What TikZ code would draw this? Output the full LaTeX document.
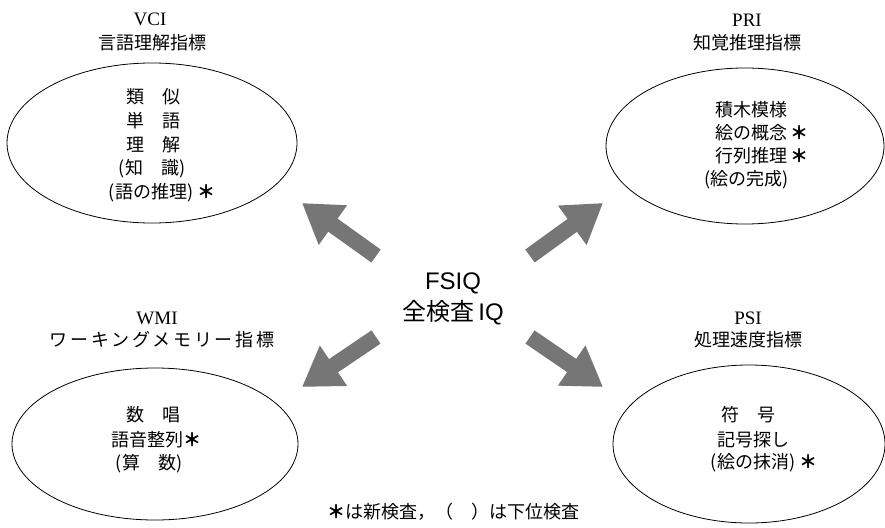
\documentclass[tikz,border=0pt]{standalone}
\usepackage{fontspec}
\setmainfont{Liberation Serif}
\newfontfamily\jp{Noto Sans CJK JP}
\newfontfamily\jpsp[LetterSpace=15]{Noto Sans CJK JP}
\newfontfamily\hsans{Liberation Sans}
\newcommand\newmark{{\jp\bfseries ＊}}
\usetikzlibrary{shapes.geometric,arrows.meta}
\definecolor{arrowgray}{RGB}{118,118,118}
\begin{document}
\begin{tikzpicture}[x=1pt,y=-1pt,
  oval/.style={ellipse,draw=black,line width=0.8pt,inner sep=0pt},
  ttl/.style={font=\fontsize{19}{22}\selectfont,inner sep=0pt},
  sub/.style={font=\jp\fontsize{18}{21}\selectfont,inner sep=0pt},
  item/.style={font=\jp\fontsize{18}{21}\selectfont,inner sep=0pt},
  itemw/.style={item,anchor=west},
  big/.style={font=\fontsize{24}{28}\selectfont,inner sep=0pt},
  blk/.style={arrowgray,line width=16pt,-{Triangle[length=38pt,width=46pt]}},
]
\fill[white] (0,0) rectangle (885,527);
\useasboundingbox (0,0) rectangle (885,527);

% ellipses
\node[oval,minimum width=290pt,minimum height=160pt] (vci) at (152,143) {};
\node[oval,minimum width=278pt,minimum height=156pt] (pri) at (745,146) {};
\node[oval,minimum width=286pt,minimum height=152pt] (wmi) at (155,444) {};
\node[oval,minimum width=272pt,minimum height=158pt] (psi) at (749,444) {};

% titles
\node[ttl] (vciT) at (150,19) {VCI};
\node[sub] (vciS) at (152,43) {言語理解指標};
\node[ttl] (priT) at (747,20) {PRI};
\node[sub] (priS) at (747,43) {知覚推理指標};
\node[ttl] (wmiT) at (157,318) {WMI};
\node[sub,font=\jpsp\fontsize{18}{21}\selectfont] (wmiS) at (162,340) {ワーキングメモリー指標};
\node[ttl] (psiT) at (748,318) {PSI};
\node[sub] (psiS) at (748,340) {処理速度指標};

% VCI items
\node[item] (v1) at (153,97) {類　似};
\node[item] (v2) at (153,121) {単　語};
\node[item] (v3) at (153,145) {理　解};
\node[item] (v4) at (152,169) {(知　識)};
\node[item] (v5) at (162,193) {(語の推理)\hspace{4pt}\newmark};

% PRI items
\node[itemw] (p1) at (715,110) {積木模様};
\node[itemw] (p2) at (715,133) {絵の概念\hspace{3pt}\newmark};
\node[itemw] (p3) at (715,156) {行列推理\hspace{3pt}\newmark};
\node[itemw] (p4) at (704,180) {(絵の完成)};

% WMI items
\node[item] (w1) at (153,415) {数　唱};
\node[item] (w2) at (156,440) {語音整列\newmark};
\node[item] (w3) at (149,464) {(算　数)};

% PSI items
\node[item] (s1) at (748,415) {符　号};
\node[item] (s2) at (753,440) {記号探し};
\node[item] (s3) at (764,463) {(絵の抹消)\hspace{4pt}\newmark};

% centre
\node[big,font=\hsans\fontsize{24}{28}\selectfont] (fsiq) at (453,283) {FSIQ};
\node[big] (fsiqJ) at (453,313) {{\jp 全検査}\,{\hsans IQ}};

% arrows
\coordinate (ulT) at (376,256); \coordinate (ulH) at (302,203);
\coordinate (urT) at (530,256); \coordinate (urH) at (603,203);
\coordinate (llT) at (376,337); \coordinate (llH) at (302,387);
\coordinate (lrT) at (530,337); \coordinate (lrH) at (603,387);
\draw[blk] (ulT) -- (ulH);
\draw[blk] (urT) -- (urH);
\draw[blk] (llT) -- (llH);
\draw[blk] (lrT) -- (lrH);

% note
\node[item] (note) at (453,512) {\newmark は新検査，（　）は下位検査};
\end{tikzpicture}
\end{document}
